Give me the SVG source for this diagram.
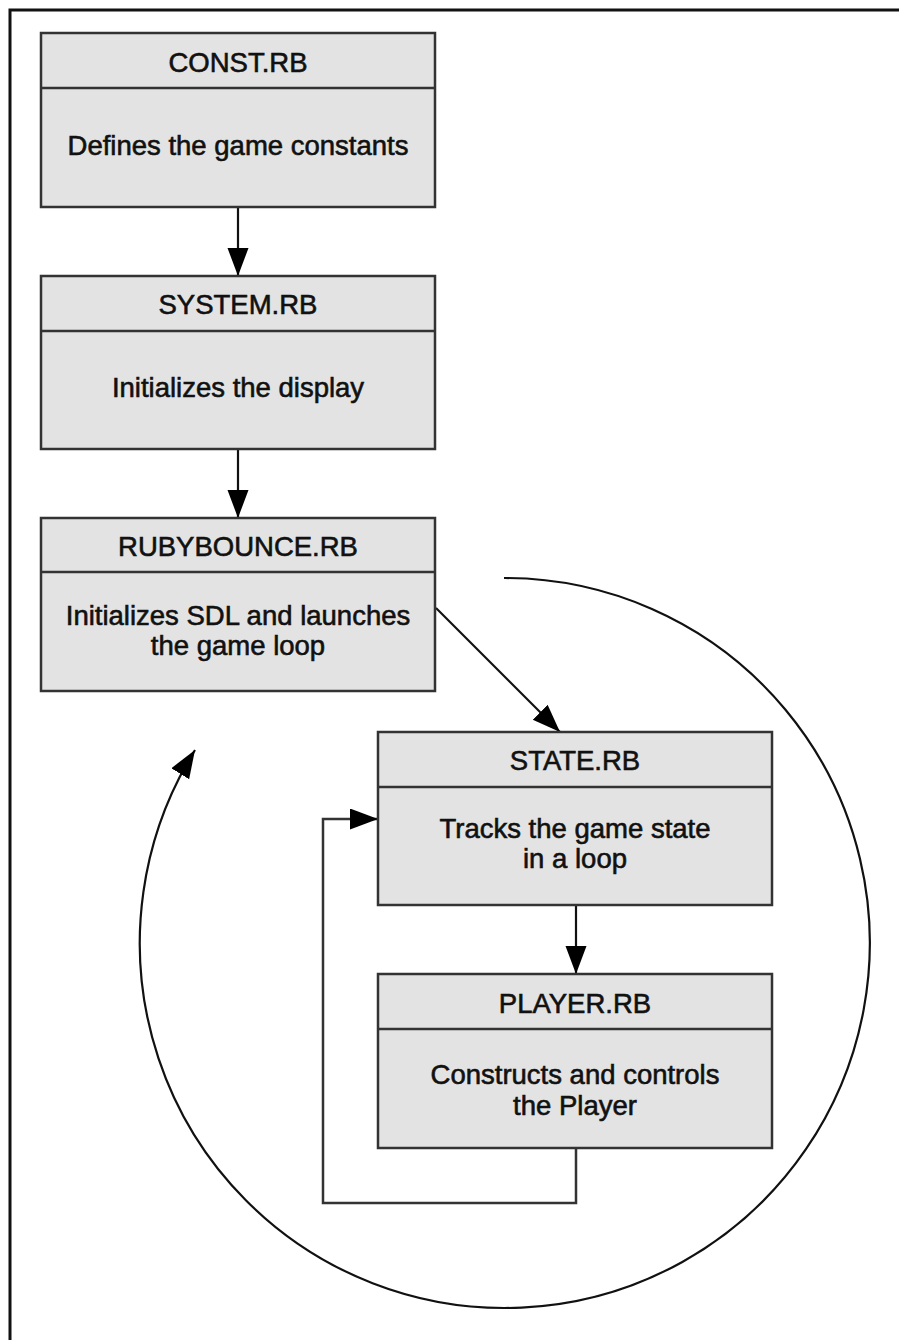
<svg xmlns="http://www.w3.org/2000/svg" width="899" height="1340" viewBox="0 0 899 1340">
<style>
.box{fill:#e3e3e3;stroke:#333;stroke-width:2.5}
.div{stroke:#333;stroke-width:2.5}
.t{font-family:"Liberation Sans",Arial,sans-serif;font-size:27.5px;fill:#111;text-anchor:middle;stroke:#111;stroke-width:0.6}
.c{fill:none;stroke:#111;stroke-width:2.2}
.lp{fill:none;stroke:#333;stroke-width:2.5}
</style>
<defs>
<marker id="ah" markerUnits="userSpaceOnUse" markerWidth="29" markerHeight="22" refX="28" refY="10.5" orient="auto">
<path d="M0,0 L28,10.5 L0,21 z" fill="#000"/>
</marker>
</defs>
<rect width="899" height="1340" fill="#fff"/>
<path d="M10,1340 V10 H899" fill="none" stroke="#111" stroke-width="3"/>
<g id="connectors">
<line class="c" x1="238" y1="207" x2="238" y2="276" marker-end="url(#ah)"/>
<line class="c" x1="238" y1="449" x2="238" y2="518" marker-end="url(#ah)"/>
<line class="c" x1="436" y1="608" x2="560" y2="732" marker-end="url(#ah)"/>
<line class="c" x1="576" y1="905" x2="576" y2="974" marker-end="url(#ah)"/>
<path class="lp" d="M576,1148 V1203 H323 V819 H378" marker-end="url(#ah)"/>
<path class="c" d="M504,578 A365,365 0 1 1 195,750" marker-end="url(#ah)"/>
</g>
<g id="const">
<rect class="box" x="41" y="33" width="394" height="174"/>
<line class="div" x1="41" y1="88" x2="435" y2="88"/>
<text class="t" x="238" y="72">CONST.RB</text>
<text class="t" x="238" y="155">Defines the game constants</text>
</g>
<g id="system">
<rect class="box" x="41" y="276" width="394" height="173"/>
<line class="div" x1="41" y1="331" x2="435" y2="331"/>
<text class="t" x="238" y="314">SYSTEM.RB</text>
<text class="t" x="238" y="397">Initializes the display</text>
</g>
<g id="rubybounce">
<rect class="box" x="41" y="518" width="394" height="173"/>
<line class="div" x1="41" y1="572" x2="435" y2="572"/>
<text class="t" x="238" y="556">RUBYBOUNCE.RB</text>
<text class="t" x="238" y="625">Initializes SDL and launches</text>
<text class="t" x="238" y="655">the game loop</text>
</g>
<g id="state">
<rect class="box" x="378" y="732" width="394" height="173"/>
<line class="div" x1="378" y1="787" x2="772" y2="787"/>
<text class="t" x="575" y="770">STATE.RB</text>
<text class="t" x="575" y="838">Tracks the game state</text>
<text class="t" x="575" y="868">in a loop</text>
</g>
<g id="player">
<rect class="box" x="378" y="974" width="394" height="174"/>
<line class="div" x1="378" y1="1029" x2="772" y2="1029"/>
<text class="t" x="575" y="1013">PLAYER.RB</text>
<text class="t" x="575" y="1084">Constructs and controls</text>
<text class="t" x="575" y="1115">the Player</text>
</g>
</svg>
